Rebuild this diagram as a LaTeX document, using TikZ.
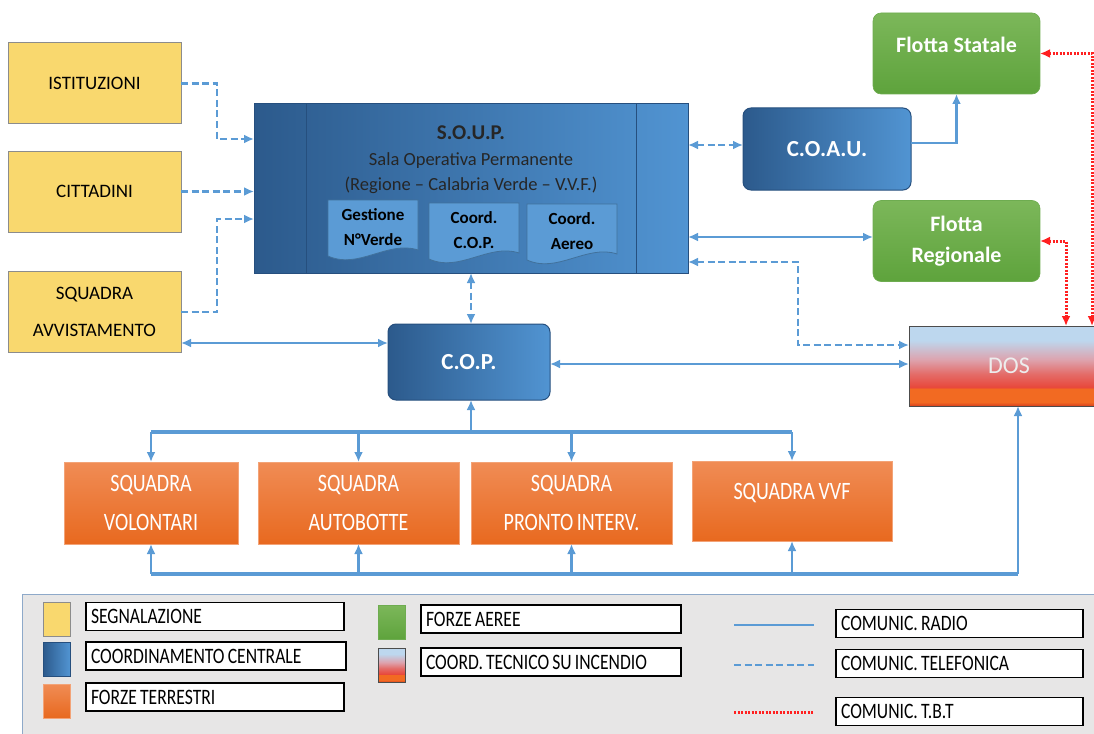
\documentclass[tikz,border=0pt]{standalone}
\usepackage{fontspec}
\setmainfont{Carlito}
\newfontfamily\narrowfont{Carlito}[FakeStretch=0.8, WordSpace=0.8]
\usetikzlibrary{arrows.meta}
\frenchspacing

\definecolor{segfill}{HTML}{F9D86E}
\definecolor{segline}{HTML}{8C8C8C}
\definecolor{bluedark}{HTML}{2C5A8C}
\definecolor{bluelight}{HTML}{5194D2}
\definecolor{blueline}{HTML}{264F7E}
\definecolor{docfill}{HTML}{5B9BD5}
\definecolor{docline}{HTML}{41719C}
\definecolor{greentop}{HTML}{7CB75A}
\definecolor{greenbot}{HTML}{5EA33C}
\definecolor{orangetop}{HTML}{F08C55}
\definecolor{orangebot}{HTML}{E8691F}
\definecolor{lineblue}{HTML}{5B9BD5}
\definecolor{tbtred}{HTML}{FF2020}
\definecolor{legfill}{HTML}{E7E6E6}
\definecolor{legline}{HTML}{8EA9C9}
\definecolor{doslight}{HTML}{BDD7EE}
\definecolor{dospink}{HTML}{DDA3AE}
\definecolor{dosred}{HTML}{E8473A}
\definecolor{dosorange}{HTML}{F26A22}
\definecolor{dosbot}{HTML}{D9401E}
\pgfdeclareverticalshading{dosshade}{100bp}{color(0bp)=(dosbot); color(25bp)=(dosbot);
  color(27.5bp)=(dosorange); color(36bp)=(dosorange); color(36.5bp)=(dosred);
  color(45bp)=(dosred!60!dospink); color(54bp)=(dospink); color(66bp)=(doslight); color(100bp)=(doslight)}

\begin{document}
\begin{tikzpicture}[x=1pt, y=-1pt, >={Latex[length=10pt,width=9pt]}]
\useasboundingbox (0,0) rectangle (1094,733);
% define node styles
\tikzstyle{every node} = [inner sep=0pt, outer sep=0pt]
\tikzstyle{segnal}  = [rectangle, draw=segline, line width=1pt, fill=segfill, minimum width=173pt,
                       minimum height=81pt, align=center, font=\fontsize{19}{37}\selectfont]
\tikzstyle{centrale} = [rectangle, rounded corners=8pt, draw=blueline, line width=1pt,
                        left color=bluedark, right color=bluelight, text=white,
                        font=\bfseries\fontsize{23}{26}\selectfont]
\tikzstyle{aerea}   = [rectangle, rounded corners=8pt, draw=greenbot!90, line width=0.6pt,
                       top color=greentop, bottom color=greenbot, text=white, align=center,
                       minimum width=167pt, minimum height=81pt, font=\bfseries\fontsize{22}{31}\selectfont]
\tikzstyle{terra}   = [rectangle, draw=orangetop!80!white, line width=0.6pt, top color=orangetop,
                       bottom color=orangebot, text=white, align=center, minimum height=82pt,
                       font=\narrowfont\fontsize{25}{39}\selectfont]
\tikzstyle{dosbox}  = [rectangle, draw=black!70, line width=1pt, shading=dosshade, text=white!93!black,
                       font=\fontsize{24}{26}\selectfont]
\tikzstyle{docbox}  = [rectangle, minimum width=90pt, minimum height=50pt]
\tikzstyle{docshape} = [fill=docfill, draw=docline, line width=0.8pt]
\tikzstyle{doctext} = [align=center, font=\bfseries\fontsize{17}{25}\selectfont]
\tikzstyle{legbox}  = [rectangle, draw=black, line width=1.2pt, fill=white, anchor=west, minimum height=28pt,
                       inner xsep=5pt, font=\narrowfont\fontsize{22}{22}\selectfont]
% define line styles
\tikzstyle{radio} = [draw=lineblue, line width=2.5pt]
\tikzstyle{bus}   = [radio, line width=3.5pt]
\tikzstyle{tel}   = [radio, dash pattern=on 7pt off 3.5pt]
\tikzstyle{tbt}   = [draw=tbtred, line width=3pt, dash pattern=on 2pt off 1.5pt]

% segnalazioni
\foreach \v/\y/\t in {ist/83.5/ISTITUZIONI, cit/191.5/CITTADINI, avv/312/{SQUADRA\\AVVISTAMENTO}}
    \node[segnal] (\v) at (94.5,\y) {\t};

% sala operativa
\node[centrale, rounded corners=0pt, minimum width=434pt, minimum height=169pt] (soup) at (471,188.5) {};
\draw[blueline, line width=1pt] ([xshift=52pt]soup.north west) -- ([xshift=52pt]soup.south west);
\draw[blueline, line width=1pt] ([xshift=-52pt]soup.north east) -- ([xshift=-52pt]soup.south east);
\node[align=center, text=black!85, font=\fontsize{18.5}{25.5}\selectfont] (souptxt) at (471,160)
    {{\bfseries\fontsize{21}{25.5}\selectfont S.O.U.P.}\\Sala Operativa Permanente\\(Regione -- Calabria Verde -- V.V.F.)};
\foreach \v/\x/\y/\t in {gest/373/225/{Gestione\\N°Verde}, ccop/474/228/{Coord.\\C.O.P.}, caer/572/229/{Coord.\\Aereo}} {
    \node[docbox] (\v) at (\x,\y) {};
    \filldraw[docshape] (\v.north west) -- (\v.north east) -- (\v.south east)
        .. controls +(-30,-10) and +(30,14) .. ([yshift=-6pt]\v.south west) -- cycle;
    \node[doctext] (\v t) at ([yshift=-2pt]\v) {\t};
}

% coordinamento e flotte
\node[centrale, minimum width=168pt, minimum height=82pt] (coau) at (827,149) {C.O.A.U.};
\node[centrale, minimum width=162pt, minimum height=76pt] (cop) at (469,362) {C.O.P.};
\node[aerea, text depth=17pt] (fstat) at (956.5,53.5) {Flotta Statale};
\node[aerea] (freg) at (956.5,241) {Flotta\\Regionale};
\node[dosbox, minimum width=200pt, minimum height=80pt] (dos) at (1009,366) {DOS};

% squadre
\foreach \v/\x/\w/\t in {vol/151/174/{SQUADRA\\VOLONTARI}, aut/358.5/201/{SQUADRA\\AUTOBOTTE},
                         pron/571.5/201/{SQUADRA\\PRONTO INTERV.}}
    \node[terra, minimum width=\w pt] (\v) at (\x,503) {\t};
\node[terra, minimum width=200pt, minimum height=80pt, text depth=19pt] (vvf) at (792,501) {SQUADRA VVF};

% comunicazioni telefoniche
\draw[tel,->] (ist.east) -- ++(36,0) |- ([yshift=49.5pt]soup.west);
\draw[tel,->] (cit.east) -- (cit.east -| soup.west);
\draw[tel,->] (avv.east) -- ++(36,0) |- ([yshift=-30.5pt]soup.west);
\draw[tel,<->] (soup.south) -- (soup.south |- cop.north);
\draw[tel,<->] ([yshift=4pt]coau.west -| soup.east) -- ([yshift=4pt]coau.west);
\draw[tel,<->] ([yshift=-73.5pt]soup.east) -- ++(110,0) |- ([yshift=21pt]dos.west);

% comunicazioni radio
\draw[radio,<->] ([yshift=-31pt]avv.east) -- ([yshift=-31pt]avv.east -| cop.west);
\draw[radio,->] ([yshift=6pt]coau.east) -| (fstat.south);
\draw[radio,<->] ([yshift=4pt]freg.west -| soup.east) -- ([yshift=4pt]freg.west);
\draw[radio,<->] ([yshift=-2pt]cop.east) -- ([yshift=-2pt]cop.east -| dos.west);
\coordinate (bustop) at (471,432);
\coordinate (busbot) at (148,574);
\coordinate (dosin) at ([xshift=9pt]dos.south);
\draw[radio,->] (bustop) -- (bustop |- cop.south);
\draw[bus] (bustop -| vol.north) -- (bustop -| vvf.north);
\draw[bus] (busbot -| vol.south) -- (busbot -| dosin);
\draw[radio,->] (busbot -| dosin) -- (dosin);
\foreach \s in {vol, aut, pron, vvf} {
    \draw[radio,->] (bustop -| \s.north) -- (\s.north);
    \draw[radio,->] (busbot -| \s.south) -- (\s.south);
}

% comunicazioni T.B.T.
\draw[tbt,<->] (fstat.east) -| ([xshift=83pt]dos.north);
\draw[tbt,<->] (freg.east) -| ([xshift=57pt]dos.north);

% legenda
\node[rectangle, draw=legline, fill=legfill, line width=1pt, minimum width=1090pt, minimum height=150pt,
      anchor=north west] (leg) at (22,594) {};
\foreach \v/\x/\y/\s in {swseg/56.5/619.5/segnal, swcen/56.5/659.5/centrale, swter/56.5/701/terra,
                         swaer/391.5/622.5/aerea, swdos/391.5/665/dosbox}
    \node[\s, rounded corners=0pt, minimum width=27pt, minimum height=34pt] (\v) at (\x,\y) {};
\foreach \v/\x/\y/\w/\t in {lseg/86/616.5/248/SEGNALAZIONE, lcen/86/656/250/COORDINAMENTO CENTRALE,
                            lter/86/697/248/FORZE TERRESTRI, laer/421/619/250/FORZE AEREE,
                            ltec/421/662/250/COORD. TECNICO SU INCENDIO, lrad/836/623.5/237/COMUNIC. RADIO,
                            ltel/836/663.5/237/COMUNIC. TELEFONICA, ltbt/836/711.5/237/COMUNIC. T.B.T}
    \node[legbox] (\v) at (\x,\y) {\makebox[\w pt][l]{\t}};
\coordinate (rada) at (734,625);
\coordinate (tela) at (734,665);
\coordinate (tbta) at (734,712);
\draw[radio] (rada) -- ++(80,0);
\draw[tel] (tela) -- ++(80,0);
\draw[tbt] (tbta) -- ++(80,0);

\end{tikzpicture}
\end{document}
